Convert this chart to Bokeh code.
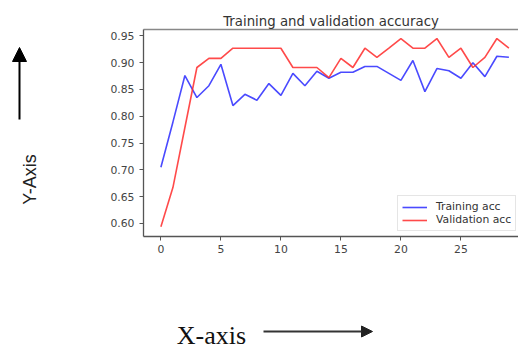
from bokeh.plotting import figure
from bokeh.layouts import row, column
from bokeh.models import (Range1d, FixedTicker, NumeralTickFormatter, Arrow,
                          NormalHead, Legend, LegendItem, LinearAxis)
from bokeh.core.properties import value
from bokeh.embed import file_html
from bokeh.resources import INLINE
import math

# ---- data ----
epochs = list(range(30))
train_acc = [0.705, 0.789, 0.876, 0.835, 0.857, 0.897, 0.820, 0.841, 0.830, 0.861,
             0.839, 0.880, 0.857, 0.884, 0.871, 0.882, 0.882, 0.893, 0.893, 0.880,
             0.867, 0.904, 0.846, 0.889, 0.885, 0.871, 0.900, 0.874, 0.912, 0.910]
val_acc = [0.594, 0.667, 0.779, 0.891, 0.908, 0.908, 0.927, 0.927, 0.927, 0.927,
           0.927, 0.891, 0.891, 0.891, 0.872, 0.908, 0.891, 0.927, 0.910, 0.927,
           0.945, 0.927, 0.927, 0.945, 0.910, 0.927, 0.891, 0.910, 0.945, 0.927]
x_ticks = [0, 5, 10, 15, 20, 25, 30]
y_ticks = [0.60, 0.65, 0.70, 0.75, 0.80, 0.85, 0.90, 0.95]
title_text = "Training and validation accuracy"
series_names = ["Training acc", "Validation acc"]
y_note = "Y-Axis"
x_note = "X-axis"

# ---- layout (page pixels) ----
PW, PH = 518, 349
LEFT_W = 95                 # left strip with the Y-axis note
MAIN_H = 280                # main chart height
FL, FT, FB = 143, 29, 236   # frame left/top/bottom on the page
X0 = -1.45
X1 = X0 + (PW - FL) / 12.0
Y0 = 0.5757
Y1 = Y0 + (FB - FT) / 26.8 * 0.05


def blank(w, h, x0, y0, left=0):
    # a strip whose frame maps page pixels 1:1 (frame starts at page x0+left)
    f = figure(width=w, height=h, output_backend="svg", toolbar_location=None,
               x_range=Range1d(x0 + left, x0 + w), y_range=Range1d(y0 + h, y0),
               x_axis_type=None, y_axis_type=None,
               min_border=0, min_border_left=left, min_border_right=0,
               min_border_top=0, min_border_bottom=0)
    f.outline_line_color = None
    f.grid.visible = False
    f.background_fill_color = "white"
    f.border_fill_color = "white"
    return f


# ---- main chart ----
p = figure(width=PW - LEFT_W, height=MAIN_H, output_backend="svg",
           toolbar_location=None,
           x_range=Range1d(X0, X1), y_range=Range1d(Y0, Y1),
           min_border_left=FL - LEFT_W, min_border_top=FT,
           min_border_bottom=MAIN_H - FB, min_border_right=0)
p.background_fill_color = "white"
p.border_fill_color = "white"
p.outline_line_color = None
p.grid.visible = False

axis_col = "#555555"
for ax in (p.xaxis[0], p.yaxis[0]):
    ax.axis_line_color = axis_col
    ax.axis_line_width = 1.3
    ax.major_tick_line_color = axis_col
    ax.major_tick_out = 4
    ax.major_tick_in = 0
    ax.minor_tick_line_color = None
    ax.major_label_text_font = "DejaVu Sans"
    ax.major_label_text_font_size = "10.8px"
    ax.major_label_text_color = "#444444"
p.xaxis[0].ticker = FixedTicker(ticks=x_ticks)
p.yaxis[0].ticker = FixedTicker(ticks=y_ticks)
p.yaxis[0].formatter = NumeralTickFormatter(format="0.00")
p.xaxis[0].major_label_standoff = 4
p.yaxis[0].major_label_standoff = 5

top = LinearAxis(ticker=FixedTicker(ticks=[]), major_label_text_font_size="0px",
                 axis_line_color="#888888", axis_line_width=1.3,
                 major_tick_line_color=None, minor_tick_line_color=None)
p.add_layout(top, "above")

p.title.text = title_text
p.title.align = "center"
p.title.text_font = "DejaVu Sans"
p.title.text_font_size = "13.3px"
p.title.text_font_style = "normal"
p.title.text_color = "#333333"
p.title.standoff = 2

r1 = p.line(epochs, train_acc, line_color="#2a2aff", line_width=1.6, line_alpha=0.85)
r2 = p.line(epochs, val_acc, line_color="#ff2a2a", line_width=1.6, line_alpha=0.85)

legend = Legend(items=[LegendItem(label=series_names[0], renderers=[r1]),
                       LegendItem(label=series_names[1], renderers=[r2])],
                location=(254, 5), margin=0, padding=4, spacing=0,
                glyph_width=25, glyph_height=12, label_height=12, label_standoff=9,
                label_text_font="DejaVu Sans", label_text_font_size="10.8px",
                label_text_color="#333333",
                border_line_color="#cccccc", border_line_width=1,
                background_fill_alpha=0.85)
p.add_layout(legend, "center")

# ---- left strip: Y-axis note ----
lf = blank(LEFT_W, PH, 0, 0)
lf.text(x=[29], y=[179], text=[y_note], angle=math.pi / 2,
        text_align="center", text_baseline="middle",
        text_font=value("Liberation Sans"), text_font_size="18px",
        text_color="#222222")
lf.add_layout(Arrow(x_start=19, y_start=119, x_end=19, y_end=47,
                    line_color="black", line_width=2,
                    end=NormalHead(size=14, fill_color="black", line_color="black")))

# ---- bottom strip: X-axis note (frame aligned with the chart frame) ----
bf = blank(PW - LEFT_W, PH - MAIN_H, LEFT_W, MAIN_H, left=FL - LEFT_W)
bf.text(x=[211], y=[335], text=[x_note], text_align="center",
        text_baseline="middle", text_font=value("Liberation Serif"),
        text_font_size="26px", text_color="#111111")
bf.add_layout(Arrow(x_start=263, y_start=331, x_end=372, y_end=331,
                    line_color="#333333", line_width=2,
                    end=NormalHead(size=11, fill_color="#222222", line_color="#222222")))

layout = row(lf, column(p, bf, spacing=0), spacing=0)
open("out.html", "w").write(file_html(layout, INLINE))
